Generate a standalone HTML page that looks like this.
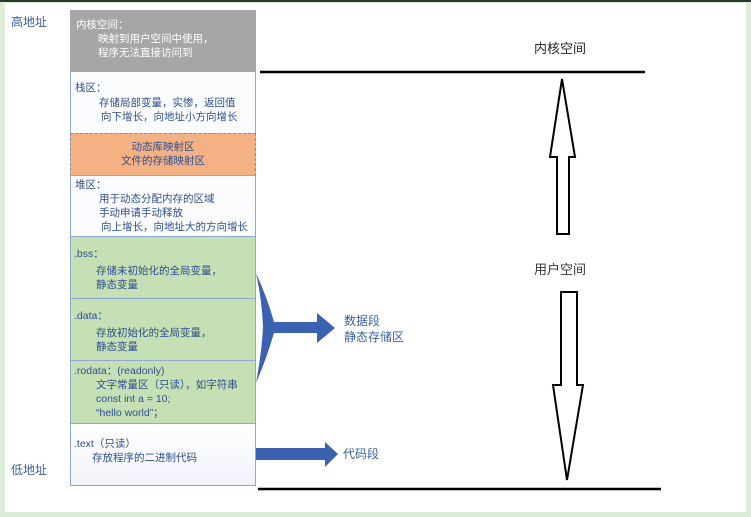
<!DOCTYPE html>
<html><head><meta charset="utf-8"><style>
body{margin:0;width:751px;height:517px;background:#dbecd7;position:relative;overflow:hidden;font-family:"Liberation Sans","Noto Sans CJK SC",sans-serif;}
#inner{position:absolute;left:5px;top:3px;width:741px;height:509px;background:#fff;}
#topline{position:absolute;left:0;top:0;width:751px;height:2px;background:#2a3a2a;}
.box{position:absolute;left:70px;width:186px;box-sizing:border-box;border:1px solid #8ea9d8;font-size:10.5px;color:#2f4f8f;line-height:14px;}
.t{position:absolute;font-size:12px;color:#3a5fa0;}
p{margin:0;}
</style></head><body>
<div id="topline"></div>
<div id="inner"></div>
<div class="t" style="left:11px;top:13px;">高地址</div>
<div class="t" style="left:11px;top:461px;">低地址</div>
<div class="box" style="top:10px;height:62px;background:#a6a6a6;border-color:#a6a6a6;color:#fff;padding:7px 0 0 5px;"><p>内核空间：</p><p style="padding-left:22px">映射到用户空间中使用，</p><p style="padding-left:22px">程序无法直接访问到</p></div>
<div class="box" style="top:71px;height:63px;background:#fbfcfe;padding:9px 0 0 4px;"><p>栈区：</p><p style="padding-left:24px;margin-top:1px">存储局部变量，实惨，返回值</p><p style="padding-left:26px">向下增长，向地址小方向增长</p></div>
<div class="box" style="top:133px;height:43px;background:#f4b183;border:1px dashed #7f8fb0;text-align:center;padding-top:6px;"><p>动态库映射区</p><p>文件的存储映射区</p></div>
<div class="box" style="top:175px;height:62px;background:#fbfcfe;padding:2px 0 0 4px;"><p>堆区：</p><p style="padding-left:24px">用于动态分配内存的区域</p><p style="padding-left:24px">手动申请手动释放</p><p style="padding-left:26px">向上增长，向地址大的方向增长</p></div>
<div class="box" style="top:236px;height:63px;background:#c5e0b4;padding:10px 0 0 3px;"><p>.bss：</p><p style="padding-left:22px;margin-top:3px">存储未初始化的全局变量，</p><p style="padding-left:22px">静态变量</p></div>
<div class="box" style="top:298px;height:63px;background:#c5e0b4;padding:10px 0 0 3px;"><p>.data：</p><p style="padding-left:22px;margin-top:3px">存放初始化的全局变量，</p><p style="padding-left:22px">静态变量</p></div>
<div class="box" style="top:360px;height:64px;background:#c5e0b4;padding:3px 0 0 3px;"><p>.rodata：(readonly)</p><p style="padding-left:22px">文字常量区（只读），如字符串</p><p style="padding-left:22px">const int a = 10;</p><p style="padding-left:22px">“hello world”；</p></div>
<div class="box" style="top:423px;height:63px;background:linear-gradient(#fff,#f1f3fa);padding:13px 0 0 3px;"><p>.text（只读）</p><p style="padding-left:18px">存放程序的二进制代码</p></div>
<div class="t" style="left:344px;top:313px;line-height:16px;">数据段<br>静态存储区</div>
<div class="t" style="left:343px;top:445px;">代码段</div>
<div class="t" style="left:534px;top:38px;color:#222;font-size:13px;">内核空间</div>
<div class="t" style="left:534px;top:259px;color:#333;font-size:13px;">用户空间</div>
<svg width="751" height="517" style="position:absolute;left:0;top:0">
<path d="M256,273 Q268,300 274,322 L317,322 L317,313 L335,328 L317,343 L317,333 L274,333 Q266,360 256,383 Q262,350 263,327 Q262,300 256,273Z" fill="#3a62b0"/>
<path d="M256,448 L325,448 L325,442 L338,454 L325,467 L325,460 L256,460Z" fill="#3a62b0"/>
<line x1="260" y1="72" x2="645" y2="72" stroke="#000" stroke-width="2.5"/>
<line x1="258" y1="489" x2="661" y2="489" stroke="#000" stroke-width="2.5"/>
<path d="M562,79 L575,157 L569,157 L569,234 L557,234 L557,157 L550,157Z" fill="#fff" stroke="#000" stroke-width="2"/>
<path d="M569,292 L577,292 L577,385 L583,385 L567,480 L553,385 L561,385 L561,292Z" fill="#fff" stroke="#000" stroke-width="2"/>
</svg>
</body></html>
